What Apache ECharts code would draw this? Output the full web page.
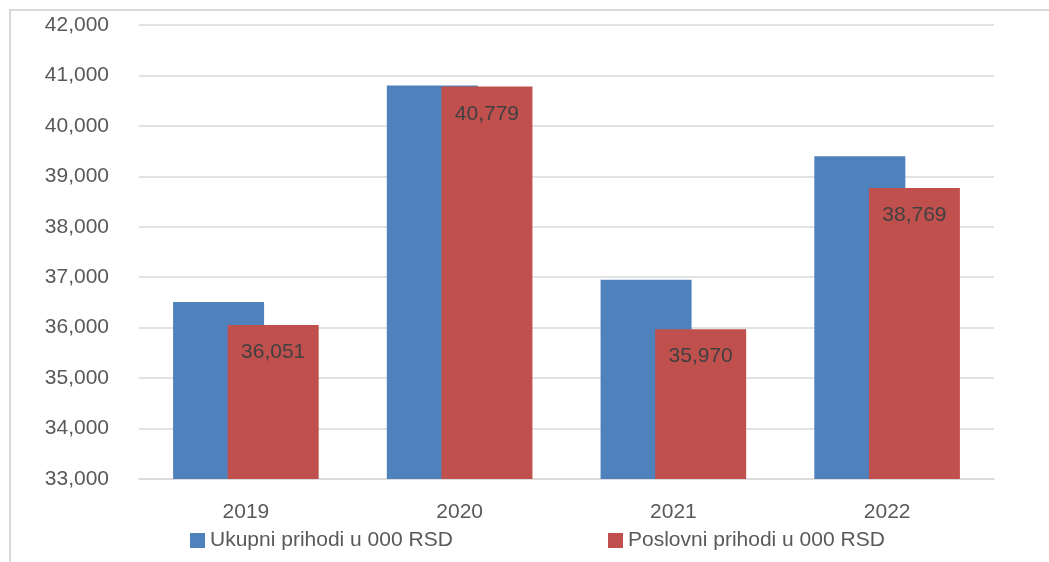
<!DOCTYPE html>
<html>
<head>
<meta charset="utf-8">
<script src="https://cdn.jsdelivr.net/npm/echarts@6/dist/echarts.min.js"></script>
<style>
  html, body { margin: 0; padding: 0; background: #fff; }
  #chart { width: 1049px; height: 562px; }
</style>
</head>
<body>
<div id="chart"></div>
<script>
// godine i prihodi (u 000 RSD)
const years = ['2019', '2020', '2021', '2022'];
const ukupniPrihodi = [36510, 40800, 36950, 39400];
const poslovniPrihodi = [36051, 40779, 35970, 38769];
const seriesNames = ['Ukupni prihodi u 000 RSD', 'Poslovni prihodi u 000 RSD'];

const FONT = '"Liberation Sans", Arial, sans-serif';
const fmt = v => v.toLocaleString('en-US');

const chart = echarts.init(document.getElementById('chart'));

const option = {
    animation: false,
    textStyle: { fontFamily: FONT },
    graphic: [{
        type: 'rect',
        shape: { x: 10, y: 10, width: 1100, height: 620 },
        style: { fill: 'none', stroke: '#d9d9d9', lineWidth: 2 },
        silent: true
    }],
    grid: { left: 139, right: 55, top: 25, bottom: 83 },
    legend: [
        {
            data: [seriesNames[0]],
            left: 185, top: 525,
            itemWidth: 15, itemHeight: 15,
            icon: 'rect',
            textStyle: { color: '#595959', fontSize: 21, fontFamily: FONT }
        },
        {
            data: [seriesNames[1]],
            left: 603, top: 525,
            itemWidth: 15, itemHeight: 15,
            icon: 'rect',
            textStyle: { color: '#595959', fontSize: 21, fontFamily: FONT }
        }
    ],
    xAxis: {
        type: 'category',
        data: years,
        axisLine: { show: true, lineStyle: { color: '#d9d9d9', width: 1.5 } },
        axisTick: { show: false },
        axisLabel: { color: '#595959', fontSize: 21, margin: 23, fontFamily: FONT }
    },
    yAxis: {
        type: 'value',
        min: 33000,
        max: 42000,
        interval: 1000,
        axisLine: { show: false },
        axisTick: { show: false },
        splitLine: { lineStyle: { color: '#d9d9d9', width: 1.5 } },
        axisLabel: {
            color: '#595959', fontSize: 21, margin: 30, fontFamily: FONT,
            formatter: fmt
        }
    },
    series: [
        {
            name: seriesNames[0],
            type: 'bar',
            data: ukupniPrihodi,
            barWidth: 91,
            barGap: '-40%',
            itemStyle: { color: '#4f81bd' }
        },
        {
            name: seriesNames[1],
            type: 'bar',
            data: poslovniPrihodi,
            barWidth: 91,
            itemStyle: { color: '#c0504d' },
            label: {
                show: true,
                position: 'insideTop',
                distance: 17,
                color: '#404040',
                fontSize: 21,
                fontFamily: FONT,
                formatter: p => fmt(p.value)
            }
        }
    ]
};

chart.setOption(option);
</script>
</body>
</html>
